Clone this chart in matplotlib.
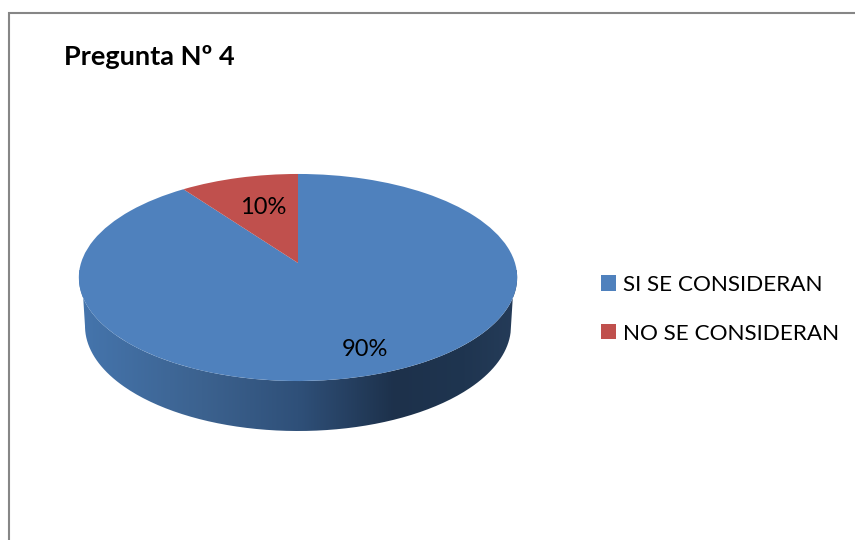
#!/usr/bin/env python3
import numpy as np
import matplotlib
matplotlib.use("Agg")
import matplotlib.pyplot as plt
from matplotlib.colors import LinearSegmentedColormap
from matplotlib.patches import PathPatch
from matplotlib.path import Path
from matplotlib.transforms import Transform

plt.rcParams['font.family'] = ['Lato', 'DejaVu Sans']

title = "Pregunta Nº 4"
categories = ["SI SE CONSIDERAN", "NO SE CONSIDERAN"]
values = [90, 10]
colors = ["#4f81bd", "#c0504d"]


class PiePerspective(Transform):
    # tilts the flat pie so it looks like the 3D one, output is in pixels
    input_dims = 2
    output_dims = 2
    k = 0.14

    def transform_non_affine(self, xy):
        xy = np.asarray(xy)
        d = 1 + self.k * xy[:, 1]
        return np.column_stack([298 + 217 * xy[:, 0] / d, 263 - 101.5 * xy[:, 1] / d])


fig = plt.figure(figsize=(8.55, 5.40), dpi=100)
ax = fig.add_axes([0, 0, 1, 1])

wedges, _, autotexts = ax.pie(values, colors=colors, startangle=90, counterclock=False,
                              autopct='%d%%', textprops={'fontsize': 17, 'color': 'black'})
persp = PiePerspective()
for w in wedges:
    w.set_transform(persp + ax.transData)
    w.set_zorder(3)
    w.set_linewidth(0)
autotexts[0].set_position((365, 350))
autotexts[1].set_position((263, 208))
for t in autotexts:
    t.set_zorder(4)

ax.set_aspect('auto')
ax.set_xlim(0, 855)
ax.set_ylim(540, 0)
ax.axis('off')

# side wall of the pie
t = np.linspace(0, np.pi, 200)
t2 = np.linspace(np.pi, 2 * np.pi, 200)
circle = np.column_stack([np.cos(t2), np.sin(t2)])
top_low = persp.transform_non_affine(circle)
wall_low = np.column_stack([298 + 213 * np.cos(t), 326 + 105 * np.sin(t)])
wall_pts = np.vstack([top_low, wall_low])
wall_patch = PathPatch(Path(wall_pts), transform=ax.transData, facecolor='none', edgecolor='none')
ax.add_patch(wall_patch)
wall_cmap = LinearSegmentedColormap.from_list('wall', [
    (0.0, '#4575ad'), (0.28, '#3c628f'), (0.5, '#2f5079'),
    (0.72, '#1d314b'), (0.88, '#1f3550'), (1.0, '#253c59')])
grad = ax.imshow(np.linspace(0, 1, 256)[None, :], cmap=wall_cmap, aspect='auto',
                 extent=(79, 517, 440, 270), zorder=2)
grad.set_clip_path(wall_patch)
ax.set_xlim(0, 855)
ax.set_ylim(540, 0)

# chart frame, runs off the right and the bottom of the picture
ax.plot([8.5, 8.5, 860], [545, 12.5, 12.5], color='#868686', lw=1.5, solid_joinstyle='miter')

ax.text(64, 65, title, fontsize=19.5, fontweight='bold', color='black', va='baseline', ha='left')

ax.legend(wedges, categories, loc='upper left', bbox_to_anchor=(601, 275),
          bbox_transform=ax.transData, frameon=False, fontsize=16.2, borderpad=0, borderaxespad=0,
          handlelength=0.667, handleheight=0.667, handletextpad=0.31, labelspacing=1.27,
          labelcolor='black')

fig.savefig("out.png", dpi=100)
